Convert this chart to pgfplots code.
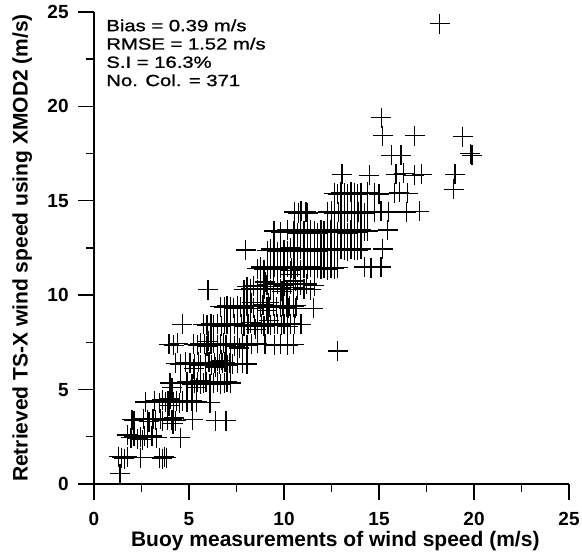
\documentclass[border=0pt]{standalone}
\usepackage{fontspec}
\setmainfont{Liberation Sans}
\newfontfamily\statfont[FakeBold=1]{Liberation Sans}
\usepackage{graphicx}
\usepackage{pgfplots}
\pgfplotsset{compat=1.18}
\begin{document}
\begin{tikzpicture}
\useasboundingbox (-47pt,-35.5pt) rectangle (244pt,242pt);
\begin{axis}[
 at={(0pt,0pt)}, anchor=south west,
 scale only axis, width=237.5pt, height=236pt,
 xmin=0,xmax=25,ymin=0,ymax=25,
 axis lines=left, axis line style={-, line width=0.7pt},
 xtick={0,5,...,25}, ytick={0,5,...,25},
 minor xtick={2.5,7.5,...,22.5}, minor ytick={2.5,7.5,...,22.5},
 tick align=outside, major tick length=8pt, minor tick length=4pt,
 every tick/.style={line width=0.7pt, black},
 /pgf/number format/assume math mode=true,
 ticklabel style={font=\fontsize{9.5}{11}\selectfont\bfseries},
 xticklabel style={yshift=-2.5pt},
 yticklabels={},
 xlabel={Buoy measurements of wind speed (m/s)},
 ylabel={Retrieved TS-X wind speed using XMOD2 (m/s)},
 label style={font=\fontsize{10.5}{12}\selectfont\bfseries},
 xlabel style={at={(axis description cs:0.508,-0.1)}, anchor=north, inner sep=0pt},
 ylabel style={at={(axis description cs:-0.1726,0.5)}, anchor=north, inner sep=0pt},
 clip=false,
]
\addplot[only marks, mark=+, mark size=5pt, mark options={line width=0.65pt}] coordinates {
(1.37,0.55)
(1.30,1.45) (1.45,1.40) (1.60,1.35) (1.75,1.45) (2.45,1.40) (3.45,1.40) (3.60,1.35) (3.70,1.45) (3.80,1.40)
(1.75,2.60) (1.95,2.45) (2.10,2.55) (2.30,2.40) (2.45,2.50) (2.55,2.35) (2.65,2.55) (2.80,2.45) (3.05,2.55) (3.30,2.45) (4.55,2.45)
(2.00,3.40) (2.10,3.35) (2.60,3.45) (2.80,3.40) (2.90,3.30) (3.10,3.45) (3.25,3.40) (3.50,3.45) (3.60,3.35) (3.85,3.40) (4.10,3.40) (4.15,3.20) (4.20,3.50) (4.30,3.35) (5.20,3.40) (6.40,3.35) (6.95,3.35)
(2.70,4.35) (3.20,4.40) (3.45,4.30) (3.60,4.45) (3.75,4.35) (3.90,4.40) (4.00,4.50) (4.20,4.35) (4.35,4.40) (4.50,4.30) (4.65,4.40) (4.90,4.35) (5.15,4.40) (5.40,4.35) (6.10,4.30) (3.95,4.15)
(4.00,5.35) (4.10,5.10) (4.55,5.35) (4.90,5.40) (5.15,5.30) (5.30,5.35) (5.40,5.10) (5.45,5.40) (5.60,5.50) (5.60,5.30) (5.75,5.35) (5.90,5.40) (6.10,5.30) (6.30,5.35) (6.50,5.40) (6.65,5.30) (6.85,5.35) (7.00,5.40) (7.20,5.35)
(4.30,6.40) (4.55,6.35) (4.80,6.45) (5.05,6.40) (5.30,6.35) (5.50,6.45) (5.60,6.30) (5.85,6.40) (6.05,6.45) (6.20,6.30) (6.35,6.40) (6.50,6.50) (6.60,6.35) (6.75,6.40) (6.90,6.45) (7.00,6.30) (7.15,6.40) (7.30,6.35) (7.55,6.40) (7.80,6.40) (8.05,6.35) (6.40,6.20) (6.70,6.55) (5.25,6.10)
(3.95,7.40) (4.20,7.35) (4.40,7.45) (5.25,7.40) (5.45,7.35) (5.60,7.45) (5.80,7.40) (5.95,7.30) (6.15,7.40) (6.30,7.45) (6.50,7.35) (6.65,7.40) (6.80,7.45) (6.95,7.35) (7.20,7.40) (7.40,7.30) (7.55,7.45) (7.80,7.40) (8.05,7.35) (8.30,7.40) (8.60,7.45) (9.00,7.40) (9.50,7.35) (9.80,7.40) (10.20,7.35) (10.50,7.40) (12.82,7.05) (7.65,7.20) (6.00,7.55)
(4.65,8.45) (5.75,8.45) (5.95,8.40) (6.15,8.50) (6.30,8.40) (6.50,8.45) (6.70,8.35) (6.85,8.50) (7.00,8.45) (7.20,8.40) (7.40,8.50) (7.55,8.40) (7.75,8.45) (7.90,8.35) (8.10,8.45) (8.25,8.55) (8.45,8.40) (8.60,8.45) (8.80,8.50) (8.95,8.35) (9.15,8.45) (9.30,8.40) (9.50,8.50) (9.65,8.45) (9.85,8.40) (10.00,8.45) (10.20,8.35) (10.35,8.50) (10.55,8.45) (10.90,8.45) (8.50,8.20) (9.20,8.65)
(6.65,9.40) (6.85,9.35) (7.00,9.45) (7.20,9.40) (7.35,9.30) (7.55,9.45) (7.70,9.40) (7.90,9.35) (8.05,9.45) (8.25,9.40) (8.40,9.30) (8.60,9.45) (8.75,9.40) (8.90,9.50) (9.10,9.35) (9.10,9.20) (9.20,9.60) (9.25,9.40) (9.45,9.45) (9.60,9.35) (9.80,9.40) (9.95,9.45) (10.15,9.35) (10.25,9.30) (10.30,9.45) (10.50,9.40) (10.60,9.30) (10.65,9.45) (11.55,9.30) (8.30,9.60)
(6.00,10.30) (7.90,10.30) (8.05,10.45) (8.25,10.35) (8.40,10.50) (8.60,10.30) (8.75,10.45) (8.95,10.35) (9.10,10.55) (9.30,10.30) (9.45,10.45) (9.65,10.60) (9.80,10.35) (10.00,10.50) (10.15,10.30) (10.35,10.60) (10.50,10.40) (10.70,10.30) (10.85,10.55) (11.05,10.35) (11.20,10.60) (11.40,10.30) (11.60,10.50) (9.00,10.70) (9.90,10.20) (10.60,10.75)
(8.60,11.40) (8.77,11.50) (8.95,11.35) (9.12,11.45) (9.30,11.40) (9.47,11.50) (9.65,11.35) (9.83,11.45) (10.00,11.40) (10.18,11.50) (10.35,11.30) (10.35,11.10) (10.40,11.45) (10.53,11.40) (10.70,11.50) (10.88,11.35) (11.06,11.45) (11.24,11.40) (11.41,11.50) (11.59,11.35) (11.76,11.45) (11.94,11.40) (12.11,11.45) (12.29,11.35) (12.47,11.45) (12.64,11.40) (12.82,11.45) (14.23,11.50) (14.58,11.45) (15.10,11.50)
(7.98,12.40) (9.12,12.35) (9.30,12.45) (9.47,12.40) (9.65,12.30) (9.83,12.45) (10.00,12.40) (10.18,12.35) (10.35,12.50) (10.53,12.40) (10.70,12.30) (10.88,12.45) (11.06,12.40) (11.24,12.35) (11.41,12.45) (11.59,12.40) (11.76,12.30) (11.94,12.45) (12.11,12.40) (12.29,12.35) (12.47,12.45) (12.64,12.40) (12.82,12.35) (13.00,12.45) (13.18,12.40) (13.35,12.35) (13.53,12.45) (13.70,12.40) (13.88,12.40) (14.05,12.45) (15.20,12.45)
(9.47,13.40) (9.83,13.35) (10.18,13.45) (10.53,13.40) (10.70,13.30) (10.88,13.45) (11.06,13.40) (11.24,13.35) (11.41,13.45) (11.59,13.40) (11.76,13.30) (11.94,13.45) (12.11,13.40) (12.29,13.35) (12.47,13.45) (12.64,13.40) (12.82,13.35) (13.00,13.45) (13.18,13.40) (13.35,13.30) (13.53,13.45) (13.70,13.40) (13.88,13.35) (14.05,13.45) (14.23,13.40) (14.40,13.40) (15.46,13.45)
(10.55,14.40) (10.75,14.35) (10.90,14.45) (11.15,14.40) (11.25,14.35) (12.30,14.40) (12.50,14.45) (12.65,14.35) (12.85,14.40) (13.00,14.45) (13.20,14.35) (13.35,14.40) (13.55,14.45) (13.70,14.35) (13.90,14.40) (14.05,14.45) (14.25,14.35) (14.40,14.40) (14.75,14.40) (15.10,14.45) (15.50,14.40) (16.43,14.40) (17.13,14.45)
(12.64,15.40) (12.82,15.35) (13.00,15.45) (13.18,15.40) (13.35,15.35) (13.52,15.45) (13.70,15.40) (13.88,15.35) (14.05,15.40) (14.40,15.45) (14.75,15.40) (15.00,15.35) (15.81,15.40) (16.07,15.45) (16.50,15.40) (18.93,15.60)
(13.05,16.40) (14.49,16.35) (15.90,16.40) (16.30,16.45) (16.85,16.35) (17.25,16.40) (19.00,16.40)
(15.64,17.40) (16.16,17.40) (19.80,17.50) (19.90,17.40)
(15.20,18.45) (16.87,18.45) (19.40,18.40)
(15.12,19.40) (18.19,24.38)
};
\pgfplotsinvokeforeach{0,5,10,15,20,25}{
 \node[anchor=east, inner sep=0pt, xshift=-12.5pt, font=\fontsize{9.5}{11}\selectfont\bfseries] at (axis cs:0,#1) {#1};
}
\node[anchor=north west, inner sep=0pt, xshift=6pt, yshift=-3pt] at (rel axis cs:0,1) {\scalebox{1.25}[1]{\statfont\fontsize{8.1}{9.15}\selectfont\begin{tabular}{@{}l@{}}Bias = 0.39 m/s\\RMSE = 1.52 m/s\\S.I = 16.3\%\\No. Col. = 371\end{tabular}}};
\end{axis}
\end{tikzpicture}
\end{document}
